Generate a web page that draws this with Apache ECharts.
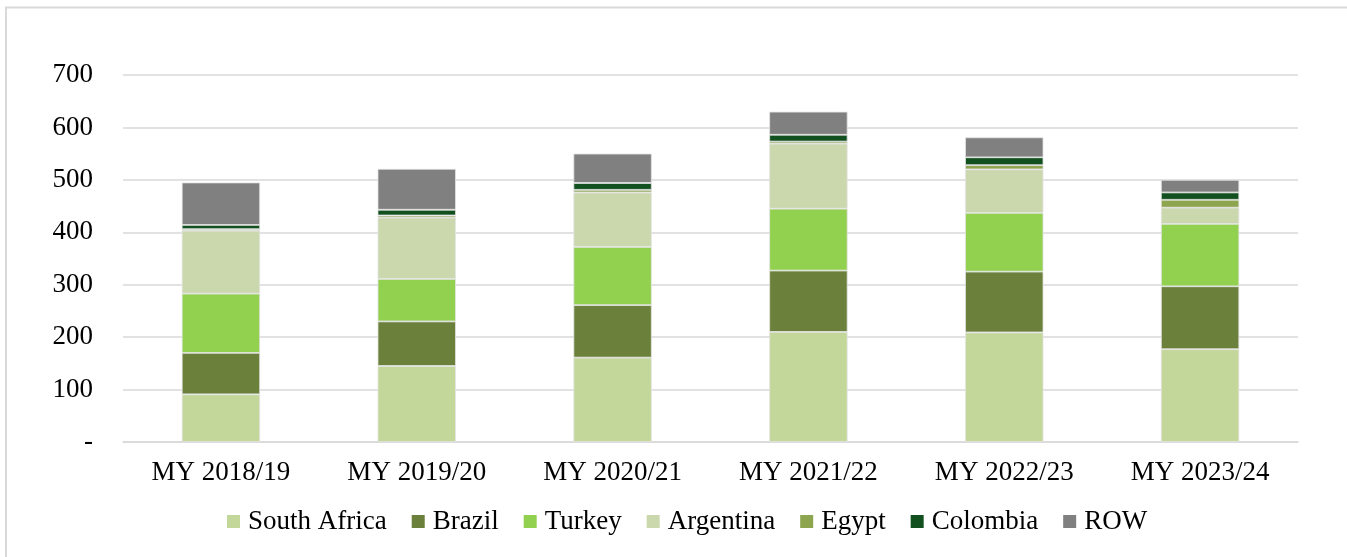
<!DOCTYPE html>
<html>
<head>
<meta charset="utf-8">
<script src="https://cdn.jsdelivr.net/npm/echarts@6/dist/echarts.min.js"></script>
<style>
html,body{margin:0;padding:0;background:#fff;}
#chart{width:1347px;height:557px;}
</style>
</head>
<body>
<div id="chart"></div>
<script>
const categories = ['MY 2018/19','MY 2019/20','MY 2020/21','MY 2021/22','MY 2022/23','MY 2023/24'];
const southAfrica = [91, 145, 161, 210, 209, 177];
const brazil      = [79, 85, 100, 117, 116, 120];
const turkey      = [113, 81, 111, 118, 112, 119];
const argentina   = [120, 117, 104, 124, 83, 31];
const egypt       = [3, 4, 5, 4, 8, 15];
const colombia    = [8, 11, 13, 13, 15, 14];
const row         = [81, 78, 56, 44, 38, 24];
const yTickLabels = ['-', '100', '200', '300', '400', '500', '600', '700'];

const seriesDefs = [
  ['South Africa', southAfrica, '#c4d79b'],
  ['Brazil', brazil, '#6b813b'],
  ['Turkey', turkey, '#92d050'],
  ['Argentina', argentina, '#cbd8ae'],
  ['Egypt', egypt, '#8ca54e'],
  ['Colombia', colombia, '#13501f'],
  ['ROW', row, '#808080']
];

const font = '"Liberation Serif", "Times New Roman", serif';
const chart = echarts.init(document.getElementById('chart'), null, {renderer:'canvas'});
chart.setOption({
  animation: false,
  backgroundColor: '#ffffff',
  graphic: [{
    type: 'rect',
    shape: {x: 6, y: 7.5, width: 1400, height: 600},
    style: {fill: 'none', stroke: '#d9d9d9', lineWidth: 2},
    silent: true
  }],
  grid: {left: 123, right: 49, top: 75, bottom: 115},
  legend: {
    left: 222, top: 503,
    itemWidth: 13, itemHeight: 13, itemGap: 25,
    icon: 'rect',
    itemStyle: {borderWidth: 0},
    textStyle: {fontFamily: font, fontSize: 27, color: '#000', padding: [0, 0, 0, 3]},
    data: seriesDefs.map(s => s[0])
  },
  xAxis: {
    type: 'category',
    data: categories,
    axisTick: {show: false},
    axisLine: {lineStyle: {color: '#d9d9d9', width: 1.5}},
    axisLabel: {fontFamily: font, fontSize: 27, color: '#000', margin: 17}
  },
  yAxis: {
    type: 'value',
    min: 0, max: 700, interval: 100,
    axisLine: {show: false},
    axisTick: {show: false},
    splitLine: {lineStyle: {color: '#d9d9d9', width: 1.5}},
    axisLabel: {
      fontFamily: font, fontSize: 27, color: '#000', margin: 30,
      formatter: (v) => yTickLabels[Math.round(v / 100)]
    }
  },
  series: seriesDefs.map(([name, data, color]) => ({
    name, type: 'bar', stack: 'total', data,
    barWidth: '40%',
    itemStyle: {color, borderColor: '#e3e3e3', borderWidth: 0.8}
  }))
});
</script>
</body>
</html>
